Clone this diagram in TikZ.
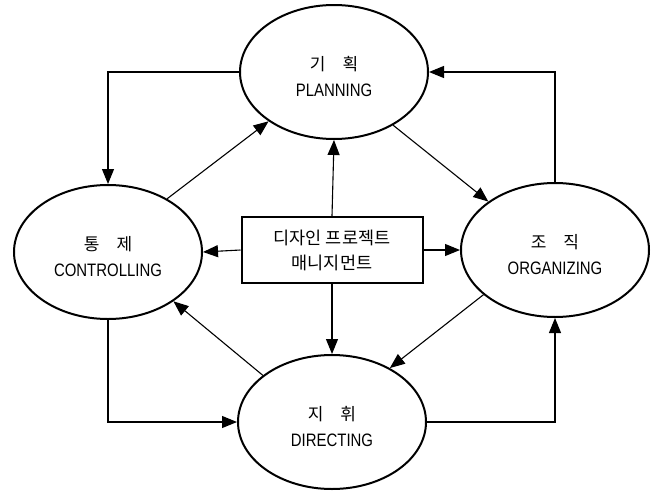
\documentclass[tikz,border=0pt]{standalone}
\usepackage{fontspec}
\setmainfont{Liberation Sans}
\newfontfamily\kr{Noto Sans CJK KR}
\newfontfamily\cond[FakeStretch=0.83]{Liberation Sans}
\usetikzlibrary{arrows.meta,shapes.geometric}

% Korean title line of a phase, two syllables set wide apart
\newcommand{\krtitle}[2]{\rule{0pt}{24pt}{\kr\fontsize{17}{26}\selectfont #1\hspace{17pt}#2}}

\begin{document}
\begin{tikzpicture}[x=1pt,y=-1pt,
  phase/.style={draw,line width=2pt,ellipse,minimum width=188pt,minimum height=134pt,
    inner sep=0pt,align=center,font=\cond\fontsize{18}{26}\selectfont},
  hub/.style={draw,line width=2pt,minimum width=181pt,minimum height=66pt,
    inner sep=0pt,align=center,font=\kr\fontsize{17.5}{25}\selectfont},
  link/.style={line width=1.1pt,-{Triangle[length=15pt,width=12pt]}}]
\useasboundingbox (0,0) rectangle (656,490);

% the four management phases
\node[phase] (P) at (334,72)  {\krtitle{기}{획}\\PLANNING};
\node[phase] (C) at (108,252) {\krtitle{통}{제}\\CONTROLLING};
\node[phase] (O) at (555,250) {\krtitle{조}{직}\\ORGANIZING};
\node[phase] (D) at (332,422) {\krtitle{지}{휘}\\DIRECTING};

% central box
\node[hub] (M) at (332,250) {디자인 프로젝트\\매니지먼트};

% hub to phases
\draw[link] (M.north) -- (P.south);
\draw[link] (M.south) -- (D.north);
\draw[link] (M.west)  -- (C.east);
\draw[link] (M.east)  -- (O.west);

% outer cycle (elbow connectors)
\draw[link] (P.west)  -| (C.north);
\draw[link] (O.north) |- (P.east);
\draw[link] (C.south) |- (D.west);
\draw[link] (D.east)  -| (O.south);

% inner cycle (diagonals)
\draw[link] (C.42)  -- (P.217);
\draw[link] (P.318) -- (O.144);
\draw[link] (O.212) -- (D.43);
\draw[link] (D.146) -- (C.323);
\end{tikzpicture}
\end{document}
